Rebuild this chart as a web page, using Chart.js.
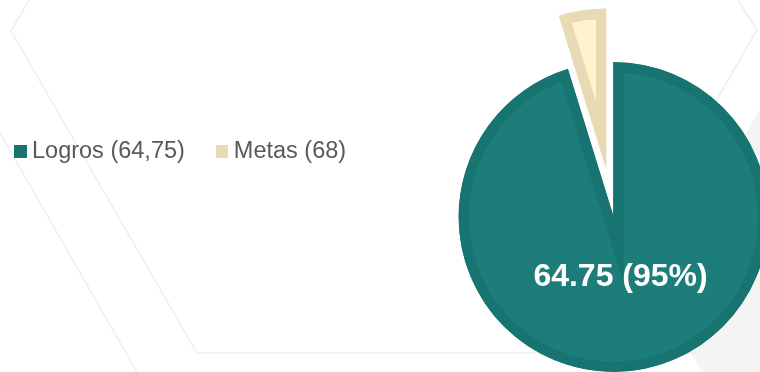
<!DOCTYPE html>
<html>
<head>
<meta charset="utf-8">
<script src="https://cdn.jsdelivr.net/npm/chart.js@4.4.1/dist/chart.umd.min.js"></script>
<style>
    html, body { margin: 0; padding: 0; background: #fff; }
    #wrap { position: relative; width: 760px; height: 372px; overflow: hidden; font-family: "Liberation Sans", Arial, sans-serif; }
    #bg, #chart { position: absolute; left: 0; top: 0; }
    #legend { position: absolute; left: 14px; top: 139px; display: flex; font-size: 23.5px; line-height: 1; color: #595959; white-space: nowrap; }
    .item { display: flex; align-items: center; margin-right: 31px; }
    .box { width: 12.5px; height: 13px; margin-right: 5.5px; position: relative; top: 1px; }
</style>
</head>
<body>
<div id="wrap">
    <svg id="bg" width="760" height="372">
        <polygon points="760,109 655,291 702,372 760,372" fill="#f4f4f4"/>
        <polyline points="29,0 11,31 197,353 700,353" fill="none" stroke="#efefef" stroke-width="1.5"/>
        <polyline points="0,133 137,372" fill="none" stroke="#efefef" stroke-width="1.5"/>
        <polyline points="738,0 757,30 690,146" fill="none" stroke="#efefef" stroke-width="1.5"/>
    </svg>
    <canvas id="chart" width="760" height="372"></canvas>
    <div id="legend"></div>
</div>
<script>
// ── Data ────────────────────────────────────────────────
const labels       = ['Logros', 'Metas'];
const legendValues = [64.75, 68];          // logro alcanzado, meta
const sliceValues  = [64.75, 3.25];        // logro, lo que falta para la meta
const fillColors   = ['#1c7d7a', '#fff2cc'];
const borderColors = ['#177470', '#e8dab5'];
const explode      = [0, 50];              // px that each slice is pulled out
const radiusGrow   = [0, 4];

// ── Legend (HTML) ───────────────────────────────────────
document.getElementById('legend').innerHTML = labels.map((l, i) => `
    <div class="item">
        <span class="box" style="background:${borderColors[i]};"></span>
        <span>${l} (${String(legendValues[i]).replace('.', ',')})</span>
    </div>`).join('');

// ── Plugins ─────────────────────────────────────────────
const explodePlugin = {
    id: 'explode',
    afterDatasetsUpdate(chart) {
        chart.getDatasetMeta(0).data.forEach((arc, i) => {
            const mid = (arc.startAngle + arc.endAngle) / 2;
            arc.x += Math.cos(mid) * explode[i];
            arc.y += Math.sin(mid) * explode[i];
            arc.outerRadius += radiusGrow[i];
        });
    }
};

const labelPlugin = {
    id: 'sliceLabel',
    afterDatasetsDraw(chart) {
        const { ctx } = chart;
        const total = sliceValues.reduce((a, b) => a + b, 0);
        chart.getDatasetMeta(0).data.forEach((arc, i) => {
            const pct = sliceValues[i] / total * 100;
            if (pct < 10) return;
            const mid = (arc.startAngle + arc.endAngle) / 2;
            const r = arc.outerRadius * 0.39;
            ctx.save();
            ctx.font = 'bold 32px "Liberation Sans", Arial, sans-serif';
            ctx.fillStyle = '#ffffff';
            ctx.textAlign = 'center';
            ctx.textBaseline = 'middle';
            ctx.fillText(`${sliceValues[i].toFixed(2)} (${Math.round(pct)}%)`,
                arc.x + Math.cos(mid) * r - 2, arc.y + Math.sin(mid) * r);
            ctx.restore();
        });
    }
};

// ── Chart ───────────────────────────────────────────────
new Chart(document.getElementById('chart'), {
    type: 'pie',
    data: {
        labels: labels,
        datasets: [{
            data: sliceValues,
            backgroundColor: fillColors,
            borderColor: borderColors,
            borderWidth: 10,
            borderAlign: 'inner',
            borderJoinStyle: 'miter',
            radius: 155
        }]
    },
    options: {
        responsive: false,
        animation: false,
        events: [],
        layout: { padding: { left: 467, right: 0, top: 62, bottom: 0 } },
        plugins: { legend: { display: false }, tooltip: { enabled: false } }
    },
    plugins: [explodePlugin, labelPlugin]
});
</script>
</body>
</html>
